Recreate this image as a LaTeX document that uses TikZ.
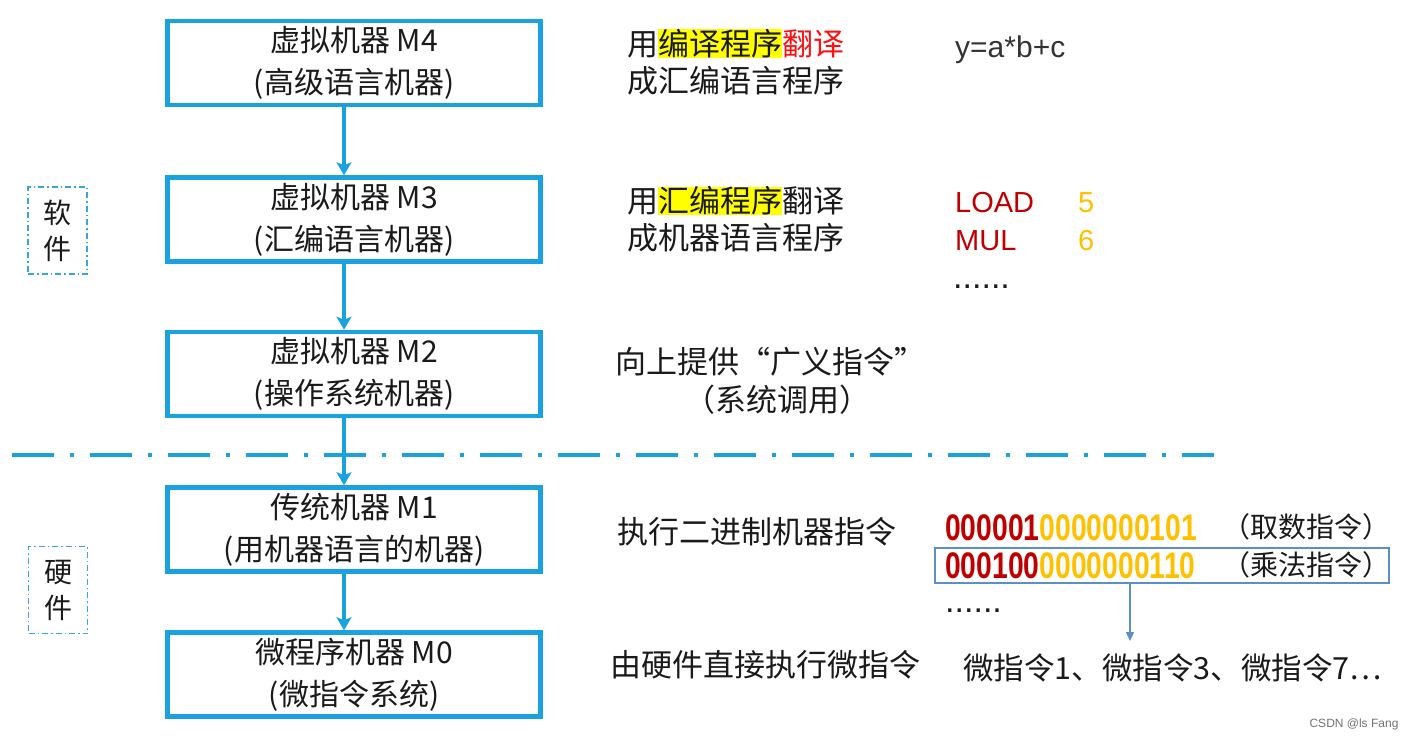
\documentclass[tikz,border=0pt]{standalone}
\usepackage{fontspec}
\setmainfont{Noto Sans CJK SC}
\newfontfamily\lat{Liberation Sans}
\usetikzlibrary{arrows.meta}
\definecolor{mblue}{HTML}{1AA1E0}
\definecolor{sblue}{HTML}{35A8DA}
\definecolor{tblue}{HTML}{5B8FCB}
\definecolor{dred}{HTML}{C00000}
\definecolor{gold}{HTML}{FFC000}
\definecolor{hred}{HTML}{FF1010}
\definecolor{hyel}{HTML}{FFFF00}
\definecolor{txt}{HTML}{1A1A1A}
\newcommand\myfs[2]{\fontsize{#1}{#2}\selectfont}
\newcommand\hl[1]{{\setlength\fboxsep{0pt}\colorbox{hyel}{#1}}}
\begin{document}
\begin{tikzpicture}[x=1pt,y=-1pt,
  mbox/.style={draw=mblue, line width=4.5pt, minimum width=373pt, minimum height=84pt,
    inner sep=0pt, align=center, text=txt, font=\myfs{30}{42}},
  sidebox/.style={draw=sblue, line width=1.3pt, dash pattern=on 6pt off 3pt on 1.5pt off 3pt,
    minimum width=59pt, minimum height=87pt, inner sep=0pt, align=center, text=txt, font=\myfs{28}{36}},
  marrow/.style={draw=mblue, line width=4pt, -{Stealth[length=13pt,width=15pt,inset=3pt]}},
  rtext/.style={anchor=west, inner sep=0pt, align=left, text=txt, font=\myfs{31}{37}},
  ctext/.style={inner sep=0pt, align=center, text=txt, font=\myfs{31}{38}},
  code/.style={anchor=west, inner sep=0pt, font=\lat\myfs{29}{34}},
  dots/.style={anchor=base west, inner sep=0pt, text height=5pt, text depth=0pt, text=txt, font=\lat\myfs{34}{36}},
  bin/.style={anchor=west, inner sep=0pt, font=\lat\bfseries\myfs{37}{40}}
]
\useasboundingbox (0,0) rectangle (1413,742);
\fill[white] (0,0) rectangle (1413,742);

% main boxes
\node[mbox] (m4) at (354,63)  {虚拟机器 M4\\(高级语言机器)};
\node[mbox] (m3) at (354,219.5) {虚拟机器 M3\\(汇编语言机器)};
\node[mbox] (m2) at (354,374) {虚拟机器 M2\\(操作系统机器)};
\node[mbox] (m1) at (354,529.5) {传统机器 M1\\(用机器语言的机器)};
\node[mbox] (m0) at (354,674.5) {微程序机器 M0\\(微指令系统)};

% separator
\draw[mblue, line width=4pt, dash pattern=on 42pt off 16pt on 4pt off 16pt] (12,455) -- (1214,455);

% arrows
\draw[marrow] ([xshift=-10pt]m4.south) -- ([xshift=-10pt]m3.north);
\draw[marrow] ([xshift=-10pt]m3.south) -- ([xshift=-10pt]m2.north);
\draw[marrow] ([xshift=-10pt]m2.south) -- ([xshift=-10pt]m1.north);
\draw[marrow] ([xshift=-10pt]m1.south) -- ([xshift=-10pt]m0.north);

% side labels
\node[sidebox] (sw) at (57.5,230.5) {软\\件};
\node[sidebox] (hw) at (58,590) {硬\\件};

% right column texts
\node[rtext] (t4) at (627,62) {用\hl{编译程序}\textcolor{hred}{翻译}\\成汇编语言程序};
\node[code, text=black!80, font=\lat\myfs{30}{34}] (y) at (955,50) {y=a*b+c};

\node[rtext] (t3) at (627,219.5) {用\hl{汇编程序}翻译\\成机器语言程序};
\node[code, text=dred] (load) at (955,203) {LOAD};
\node[code, text=gold] (five) at (1078,203) {5};
\node[code, text=dred] (mul) at (955,241) {MUL};
\node[code, text=gold] (six) at (1078,241) {6};
\node[dots] (dots1) at (953,288) {......};

\node[ctext] (t2a) at (770,362) {向上提供“广义指令”};
\node[ctext] (t2b) at (777,400) {（系统调用）};

\node[rtext] (t1) at (617,532) {执行二进制机器指令};
\node[bin] (b1) at (945,528) {\scalebox{0.765}[1]{\textcolor{dred}{000001}\textcolor{gold}{0000000101}}};
\node[ctext, font=\myfs{28}{30}] (c1) at (1306,527) {（取数指令）};
\node[bin] (b2) at (945,566) {\scalebox{0.765}[1]{\textcolor{dred}{000100}\textcolor{gold}{0000000110}}};
\node[ctext, font=\myfs{28}{30}] (c2) at (1306,565) {（乘法指令）};
\node[draw=tblue, line width=1.5pt, minimum width=454pt, minimum height=35pt, inner sep=0pt] (mulbox) at (1162,565.5) {};
\node[dots] (dots2) at (945,612) {......};

\coordinate (tip) at (1130,641);
\draw[tblue, line width=1.2pt, -{Triangle[length=9pt,width=8pt]}] (mulbox.south -| tip) -- (tip);

\node[ctext] (t0) at (765,665) {由硬件直接执行微指令};
\node[rtext, font=\myfs{30.5}{34}] (micro) at (963,668) {微指令1、微指令3、微指令7…};

\node[text=black!55, font=\lat\myfs{12}{14}, inner sep=0pt] (wm) at (1354,724) {CSDN @ls Fang};
\end{tikzpicture}
\end{document}
